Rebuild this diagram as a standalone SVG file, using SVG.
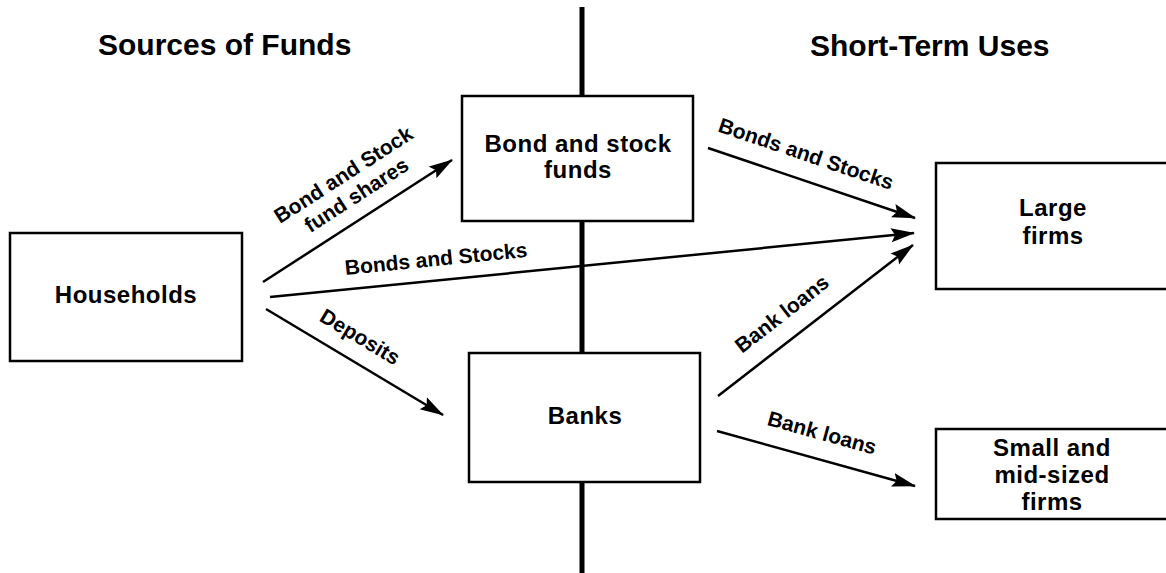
<svg xmlns="http://www.w3.org/2000/svg" width="1166" height="573" viewBox="0 0 1166 573">
<style>
  .box { fill: #fff; stroke: #000; stroke-width: 2.5; }
  .btxt { font-family: "Liberation Sans", Arial, sans-serif; font-weight: bold; font-size: 24px; letter-spacing: 0.5px; text-anchor: middle; fill: #000; }
  .title { font-family: "Liberation Sans", Arial, sans-serif; font-weight: bold; font-size: 30px; fill: #000; }
  .lbl { font-family: "Liberation Sans", Arial, sans-serif; font-weight: bold; font-size: 21px; text-anchor: middle; fill: #000; }
  .conn { stroke: #000; stroke-width: 2.5; fill: none; marker-end: url(#arrow); }
</style>
<defs>
  <marker id="arrow" markerUnits="userSpaceOnUse" markerWidth="24" markerHeight="16" viewBox="0 0 24 16" refX="23" refY="8" orient="auto">
    <path d="M0,1 L24,8 L0,15 L4,8 z" fill="#000"/>
  </marker>
</defs>
<rect width="1166" height="573" fill="#fff"/>
<g id="divider">
  <line x1="582" y1="7" x2="582" y2="573" stroke="#000" stroke-width="5"/>
</g>
<g id="titles">
  <text class="title" x="98" y="55">Sources of Funds</text>
  <text class="title" x="810" y="56">Short-Term Uses</text>
</g>
<g id="connectors">
  <line class="conn" x1="263" y1="282" x2="452" y2="160"/>
  <line class="conn" x1="270" y1="297" x2="914" y2="233"/>
  <line class="conn" x1="266" y1="309" x2="443" y2="415"/>
  <line class="conn" x1="708" y1="148" x2="915" y2="218"/>
  <line class="conn" x1="718" y1="396" x2="913" y2="245"/>
  <line class="conn" x1="717" y1="431" x2="915" y2="486"/>
  <g id="labels">
    <g transform="translate(350,185) rotate(-32.8)">
      <text class="lbl" x="0" y="-5">Bond and Stock</text>
      <text class="lbl" x="0" y="19">fund shares</text>
    </g>
    <text class="lbl" transform="translate(436,259) rotate(-5.7)" y="7">Bonds and Stocks</text>
    <text class="lbl" transform="translate(360,337) rotate(30.9)" y="7">Deposits</text>
    <text class="lbl" transform="translate(806,154) rotate(18.7)" y="7">Bonds and Stocks</text>
    <text class="lbl" transform="translate(782,314) rotate(-37.8)" y="7">Bank loans</text>
    <text class="lbl" transform="translate(822,433) rotate(15.5)" y="7">Bank loans</text>
  </g>
</g>
<g id="households">
  <rect class="box" x="10" y="233" width="232" height="128"/>
  <text class="btxt" x="126" y="303">Households</text>
</g>
<g id="bond-funds">
  <rect class="box" x="462" y="96" width="231" height="125"/>
  <text class="btxt" x="578" y="152">Bond and stock</text>
  <text class="btxt" x="578" y="178">funds</text>
</g>
<g id="banks">
  <rect class="box" x="469" y="353" width="231" height="129"/>
  <text class="btxt" x="585" y="424">Banks</text>
</g>
<g id="large-firms">
  <rect class="box" x="936" y="163" width="240" height="126"/>
  <text class="btxt" x="1053" y="216">Large</text>
  <text class="btxt" x="1053" y="244">firms</text>
</g>
<g id="small-firms">
  <rect class="box" x="936" y="429" width="240" height="90"/>
  <text class="btxt" x="1052" y="456">Small and</text>
  <text class="btxt" x="1052" y="483">mid-sized</text>
  <text class="btxt" x="1052" y="510">firms</text>
</g>
</svg>
